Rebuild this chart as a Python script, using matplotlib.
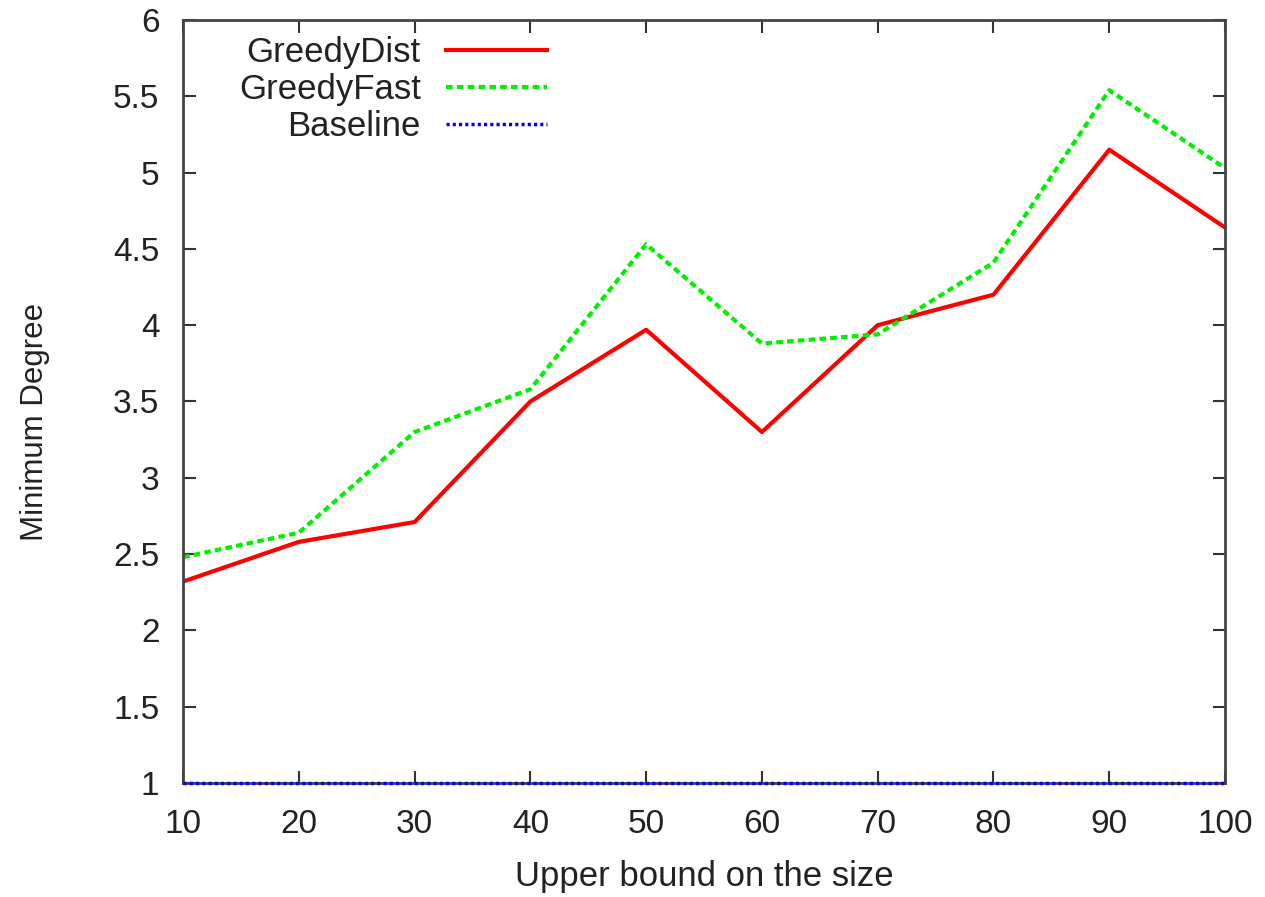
import matplotlib
matplotlib.use("Agg")
import matplotlib.pyplot as plt

plt.rcParams['font.family'] = ['Liberation Sans', 'DejaVu Sans']

sizes = [10, 20, 30, 40, 50, 60, 70, 80, 90, 100]
greedy_dist = [2.32, 2.58, 2.71, 3.50, 3.97, 3.30, 4.00, 4.20, 5.15, 4.64]
greedy_fast = [2.48, 2.64, 3.30, 3.58, 4.53, 3.88, 3.94, 4.41, 5.54, 5.03]
baseline = [1, 1, 1, 1, 1, 1, 1, 1, 1, 1]

y_ticks = [1, 1.5, 2, 2.5, 3, 3.5, 4, 4.5, 5, 5.5, 6]
y_tick_labels = ["1", "1.5", "2", "2.5", "3", "3.5", "4", "4.5", "5", "5.5", "6"]

fig = plt.figure(figsize=(12.65, 8.97), dpi=100)
ax = fig.add_axes([0.1447, 0.1271, 0.8237, 0.8506])

ax.plot(sizes, greedy_dist, color='#ff0000', lw=3.0, label='GreedyDist')
ax.plot(sizes, greedy_fast, color='#00f000', lw=3.0, linestyle=(0, (1.6, 1.0)), label='GreedyFast')
ax.plot(sizes, baseline, color='#0000ff', lw=2.5, linestyle=(0, (0.9, 0.9)), label='Baseline',
        zorder=5, clip_on=False)

ax.set_xlim(10, 100)
ax.set_ylim(1, 6)
ax.set_xticks(sizes)
ax.set_yticks(y_ticks)
ax.set_yticklabels(y_tick_labels)
ax.tick_params(direction='in', length=9, width=1.5, labelsize=24, top=True, right=True,
               color='#333333', labelcolor='#222222')
ax.tick_params(axis='x', pad=19)
ax.tick_params(axis='y', pad=17)
for s in ax.spines.values():
    s.set_color('#444444')
    s.set_linewidth(2)

ax.set_xlabel("Upper bound on the size", fontsize=25, color='#222222', labelpad=14)
ax.set_ylabel("Minimum Degree", fontsize=22.5, color='#222222')
ax.yaxis.set_label_coords(-0.128, 0.473)

leg = ax.legend(loc='upper left', bbox_to_anchor=(0.0537, 0.979), frameon=False, markerfirst=False,
                fontsize=25, handlelength=2.9, handletextpad=0.72, labelspacing=0.11,
                borderaxespad=0, borderpad=0)
for t in leg.get_texts():
    t.set_color('#222222')

fig.savefig("out.png", dpi=100)
